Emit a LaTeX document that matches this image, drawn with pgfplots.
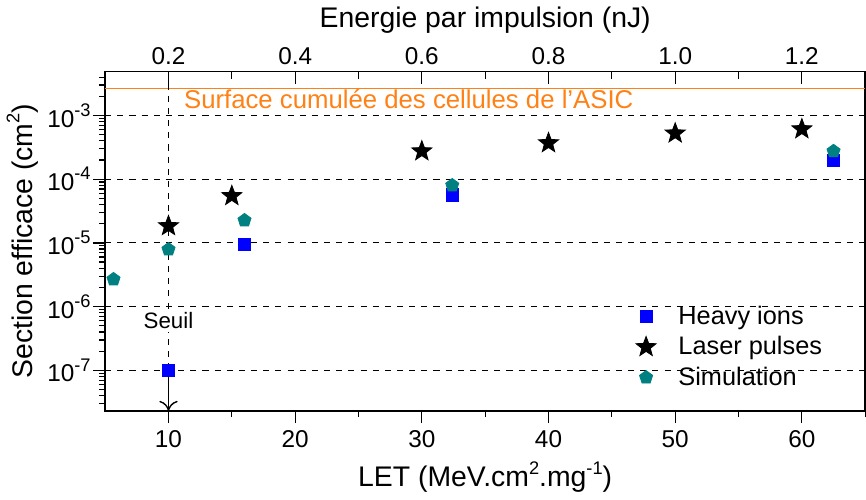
\documentclass[border=0pt]{standalone}
\usepackage{fontspec}
\setmainfont{Liberation Sans}
\usepackage{pgfplots}
\pgfplotsset{compat=1.18}
\usetikzlibrary{arrows.meta}

\definecolor{heavy}{RGB}{0,0,255}
\definecolor{simu}{RGB}{0,128,128}
\definecolor{asic}{RGB}{255,128,20}

\newcommand{\expo}[1]{\raisebox{0.85ex}{\fontsize{9}{10}\selectfont #1}}

% filled five-point star
\pgfdeclareplotmark{fstar}{%
  \pgfpathmoveto{\pgfpointpolar{90}{\pgfplotmarksize}}%
  \pgfpathlineto{\pgfpointpolar{126}{0.42\pgfplotmarksize}}%
  \pgfpathlineto{\pgfpointpolar{162}{\pgfplotmarksize}}%
  \pgfpathlineto{\pgfpointpolar{198}{0.42\pgfplotmarksize}}%
  \pgfpathlineto{\pgfpointpolar{234}{\pgfplotmarksize}}%
  \pgfpathlineto{\pgfpointpolar{270}{0.42\pgfplotmarksize}}%
  \pgfpathlineto{\pgfpointpolar{306}{\pgfplotmarksize}}%
  \pgfpathlineto{\pgfpointpolar{342}{0.42\pgfplotmarksize}}%
  \pgfpathlineto{\pgfpointpolar{18}{\pgfplotmarksize}}%
  \pgfpathlineto{\pgfpointpolar{54}{0.42\pgfplotmarksize}}%
  \pgfpathclose\pgfusepathqfillstroke}

\begin{document}
\begin{tikzpicture}
\begin{axis}[
  width=375pt, height=167.5pt, scale only axis,
  ymode=log, ymin=2.3e-8, ymax=4.9e-3,
  xmin=5, xmax=65,
  xtick={10,20,...,60},
  minor xtick={15,25,...,65},
  xtick pos=lower, ytick pos=left,
  tick align=outside,
  major tick length=6pt, minor tick length=3pt,
  tick style={black, line width=0.6pt},
  every tick label/.append style={font=\fontsize{12}{14}\selectfont},
  /pgf/number format/assume math mode=true,
  ytick={1e-7,1e-6,1e-5,1e-4,1e-3},
  yticklabels={10\expo{-7},10\expo{-6},10\expo{-5},10\expo{-4},10\expo{-3}},
  yticklabel style={inner xsep=1pt},
  minor ytick={3e-8,4e-8,5e-8,6e-8,7e-8,8e-8,9e-8,
    2e-7,3e-7,4e-7,5e-7,6e-7,7e-7,8e-7,9e-7,
    2e-6,3e-6,4e-6,5e-6,6e-6,7e-6,8e-6,9e-6,
    2e-5,3e-5,4e-5,5e-5,6e-5,7e-5,8e-5,9e-5,
    2e-4,3e-4,4e-4,5e-4,6e-4,7e-4,8e-4,9e-4,
    2e-3,3e-3,4e-3},
  ymajorgrids,
  major grid style={black, dash pattern=on 3pt off 3pt, line width=0.5pt},
  axis line style={line width=0.7pt},
  xlabel={LET (MeV.cm\expo{2}.mg\expo{-1})},
  ylabel={Section efficace (cm\expo{2})},
  label style={font=\fontsize{14}{16}\selectfont},
  legend style={draw=none, fill=none, at={(0.69,0.335)}, anchor=north west,
    font=\fontsize{12.5}{15}\selectfont, row sep=0.5pt},
  legend cell align=left,
  clip=false,
]
% cumulative ASIC surface
\addplot[asic, line width=0.8pt, forget plot] coordinates {(5,2.64e-3) (65,2.64e-3)};
\node[asic, anchor=west, font=\fontsize{12.7}{14}\selectfont, inner sep=0pt]
  at (axis cs:11.2,1.8e-3) {Surface cumulée des cellules de l'ASIC};

% threshold
\draw[black, dash pattern=on 3pt off 3pt, line width=0.6pt] (axis cs:10,4.9e-3) -- (axis cs:10,1e-7);
\draw[black, line width=0.7pt, -{To[length=5pt,width=9pt]}] (axis cs:10,1e-7) -- (axis cs:10,2.3e-8);
\node[fill=white, inner sep=1.5pt, font=\fontsize{11}{13}\selectfont] at (axis cs:10,6e-7) {Seuil};

\addplot[only marks, mark=square*, mark size=3pt, color=heavy] coordinates {
  (10,1e-7) (16,9.4e-6) (32.4,5.65e-5) (62.5,1.96e-4)};
\addlegendentry{\hspace*{9pt}Heavy ions}
\addplot[only marks, mark=fstar, mark size=5.2pt, color=black] coordinates {
  (10,1.84e-5) (15,5.46e-5) (30,2.75e-4) (40,3.69e-4) (50,5.24e-4) (60,6.1e-4)};
\addlegendentry{\hspace*{9pt}Laser pulses}
\addplot[only marks, mark=pentagon*, mark size=3.4pt, color=simu] coordinates {
  (5.66,2.68e-6) (10,7.9e-6) (16,2.26e-5) (32.4,8.0e-5) (62.5,2.75e-4)};
\addlegendentry{\hspace*{9pt}Simulation}
\end{axis}

\begin{axis}[
  width=375pt, height=167.5pt, scale only axis,
  ymin=0, ymax=1,
  xmin=0.1, xmax=1.3,
  axis x line*=top, axis y line=none,
  xtick={0.2,0.4,...,1.2},
  minor xtick={0.3,0.5,...,1.1},
  tick align=inside,
  major tick length=6pt, minor tick length=3.5pt,
  tick style={black, line width=0.6pt},
  xticklabel style={font=\fontsize{12}{14}\selectfont,
    /pgf/number format/fixed, /pgf/number format/fixed zerofill,
    /pgf/number format/precision=1, /pgf/number format/assume math mode=true},
  axis line style={line width=0.7pt},
  xlabel={Energie par impulsion (nJ)},
  label style={font=\fontsize{14}{16}\selectfont},
]
\end{axis}
\end{tikzpicture}
\end{document}
